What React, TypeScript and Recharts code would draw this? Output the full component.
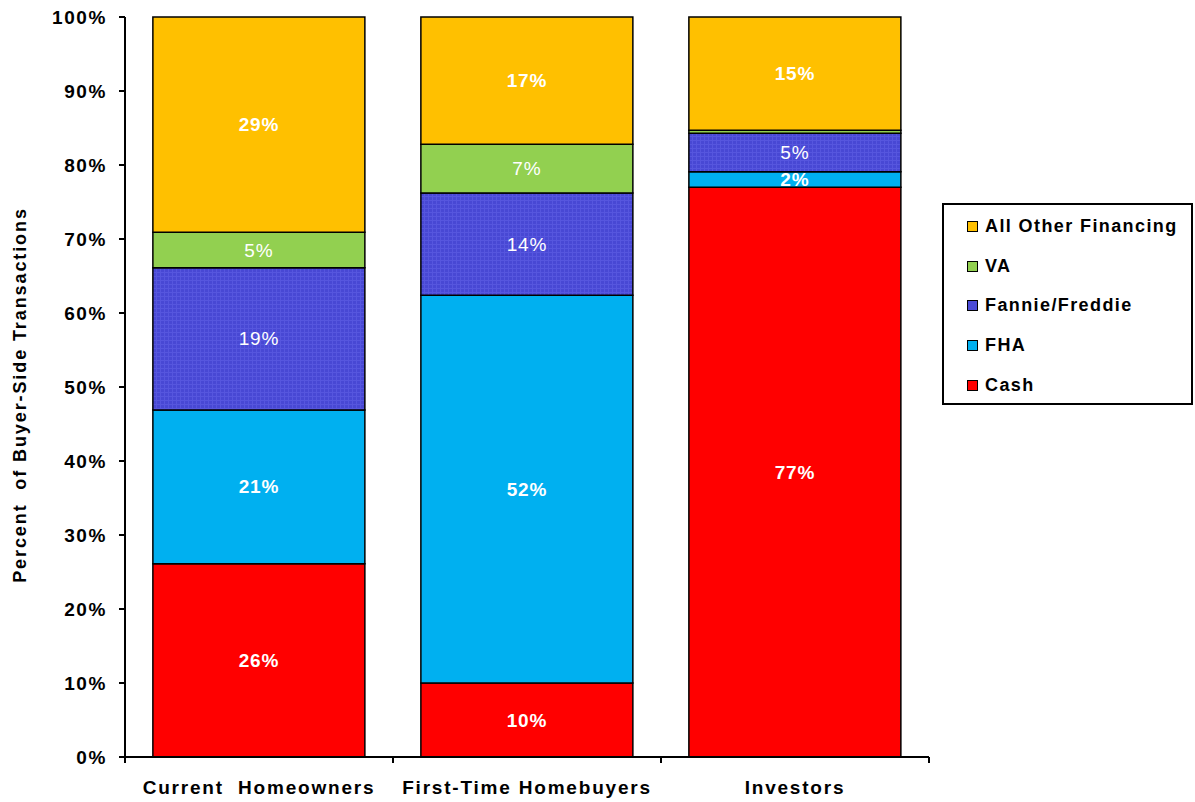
import React from "react";
import { BarChart, Bar, XAxis, YAxis, LabelList } from "recharts";

// buyer categories and financing shares (percent of buyer-side transactions)
const categories = ["Current  Homeowners", "First-Time Homebuyers", "Investors"];
const cash = [26.1, 10.0, 77.0];
const fha = [20.8, 52.4, 2.1];
const fannie = [19.2, 13.8, 5.2];
const va = [4.8, 6.6, 0.4];
const other = [29.1, 17.2, 15.3];
const yTicks = [0, 10, 20, 30, 40, 50, 60, 70, 80, 90, 100];

const series = [
  { key: "cash", name: "Cash", color: "#FF0000", bold: true },
  { key: "fha", name: "FHA", color: "#00B0F0", bold: true },
  { key: "fannie", name: "Fannie/Freddie", color: "url(#fanniePattern)", swatch: "#4B4BD6", bold: false },
  { key: "va", name: "VA", color: "#92D050", bold: false },
  { key: "other", name: "All Other Financing", color: "#FFC000", bold: true },
];

const data = categories.map((name, i) => ({
  name,
  cash: cash[i],
  fha: fha[i],
  fannie: fannie[i],
  va: va[i],
  other: other[i],
}));

const FONT = '"Liberation Sans", Arial, sans-serif';
const BAND = 268;

function makeLabel(bold: boolean) {
  return (props: any) => {
    const { x, y, width, height, value } = props;
    if (value < 1) return null;
    return (
      <text
        x={x + width / 2}
        y={y + height / 2}
        textAnchor="middle"
        dominantBaseline="central"
        fill="#fff"
        fontSize={19}
        fontWeight={bold ? "bold" : "normal"}
        fontFamily={FONT}
        letterSpacing={0.8}
      >
        {Math.round(value)}%
      </text>
    );
  };
}

function XTick(props: any) {
  const { x, y, payload, index } = props;
  return (
    <g>
      <line x1={x - BAND / 2} y1={y} x2={x - BAND / 2} y2={y + 6} stroke="#000" strokeWidth={2} />
      {index === categories.length - 1 && (
        <line x1={x + BAND / 2} y1={y} x2={x + BAND / 2} y2={y + 6} stroke="#000" strokeWidth={2} />
      )}
      <text
        x={x}
        y={y + 37}
        textAnchor="middle"
        fontSize={19}
        fontWeight="bold"
        fontFamily={FONT}
        letterSpacing={1.8}
        fill="#000"
        style={{ whiteSpace: "pre" }}
      >
        {payload.value}
      </text>
    </g>
  );
}

function YLabel() {
  const cy = 395;
  return (
    <text
      x={20}
      y={cy}
      transform={`rotate(-90 20 ${cy})`}
      textAnchor="middle"
      dominantBaseline="central"
      fontSize={18}
      fontWeight="bold"
      fontFamily={FONT}
      letterSpacing={1.9}
      fill="#000"
      style={{ whiteSpace: "pre" }}
    >
      {"Percent  of Buyer-Side Transactions"}
    </text>
  );
}

function LegendBox() {
  const items = [...series].reverse();
  return (
    <div
      style={{
        position: "absolute",
        left: 942,
        top: 203,
        border: "2px solid #000",
        width: 247,
        height: 196,
        boxSizing: "content-box",
        background: "#fff",
        paddingTop: 2,
      }}
    >
      {items.map((s) => (
        <div
          key={s.key}
          style={{
            display: "flex",
            alignItems: "center",
            height: 39.6,
            paddingLeft: 23,
            fontFamily: FONT,
            fontWeight: "bold",
            fontSize: 18,
            letterSpacing: 1.4,
            color: "#000",
          }}
        >
          <span
            style={{
              display: "inline-block",
              width: 9,
              height: 9,
              border: "1.5px solid #000",
              background: s.swatch ?? s.color,
              marginRight: 7,
            }}
          />
          {s.name}
        </div>
      ))}
    </div>
  );
}

export default function App() {
  return (
    <div style={{ position: "absolute", left: 0, top: 0, width: 1195, height: 802, background: "#fff" }}>
      <BarChart
        width={1195}
        height={802}
        data={data}
        margin={{ top: 17, right: 266, bottom: 0, left: 0 }}
        barCategoryGap="10.4%"
      >
        <defs>
          <pattern id="fanniePattern" width="4" height="4" patternUnits="userSpaceOnUse">
            <rect width="4" height="4" fill="#4848D4" />
            <rect width="1" height="4" fill="#5656DE" />
            <rect width="4" height="1" fill="#5656DE" />
          </pattern>
        </defs>
        <XAxis
          dataKey="name"
          tick={<XTick />}
          tickLine={false}
          tickSize={0}
          tickMargin={0}
          axisLine={{ stroke: "#000", strokeWidth: 2 }}
          height={45}
          interval={0}
        />
        <YAxis
          domain={[0, 100]}
          ticks={yTicks}
          width={125}
          interval={0}
          tickFormatter={(v) => `${v}%`}
          tick={{ fontSize: 19, fontWeight: "bold", fill: "#000", fontFamily: FONT, letterSpacing: 1.6 }}
          tickLine={{ stroke: "#000", strokeWidth: 2 }}
          tickSize={6}
          tickMargin={12}
          axisLine={{ stroke: "#000", strokeWidth: 2 }}
          label={<YLabel />}
        />
        {series.map((s) => (
          <Bar
            key={s.key}
            dataKey={s.key}
            name={s.name}
            stackId="a"
            fill={s.color}
            stroke="#000"
            strokeWidth={1.5}
            isAnimationActive={false}
          >
            <LabelList dataKey={s.key} content={makeLabel(s.bold)} />
          </Bar>
        ))}
      </BarChart>
      <LegendBox />
    </div>
  );
}
